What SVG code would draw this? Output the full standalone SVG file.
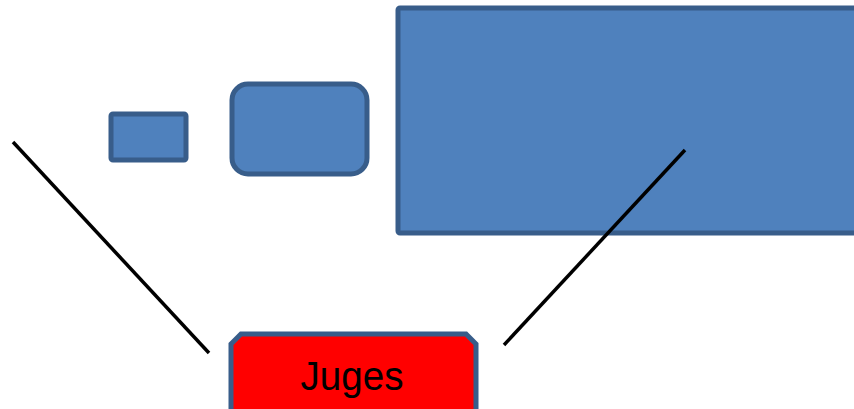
<svg xmlns="http://www.w3.org/2000/svg" width="854" height="409" viewBox="0 0 854 409">
<style>
.box{fill:#4F81BD;stroke:#385D8A;stroke-width:5}
.conn{stroke:#000;stroke-width:3.5;fill:none}
.lbl{font-family:"Liberation Sans",Arial,sans-serif;font-size:41px;fill:#000}
</style>
<rect width="854" height="409" fill="#fff"/>
<g id="small-box"><rect class="box" x="111" y="114" width="75" height="46" rx="2"/></g>
<g id="rounded-box"><rect class="box" x="232" y="84" width="135" height="90" rx="16"/></g>
<g id="big-box"><rect class="box" x="398" y="8" width="470" height="225" rx="2"/></g>
<g id="juges">
<path class="box" style="fill:#FF0000" d="M231,420 L231,344 L241,334 L466,334 L476,344 L476,420 Z"/>
<text class="lbl" x="352" y="390" text-anchor="middle" textLength="103" lengthAdjust="spacingAndGlyphs">Juges</text>
</g>
<g id="connectors">
<line class="conn" x1="13" y1="142" x2="209" y2="353"/>
<line class="conn" x1="685" y1="150" x2="504" y2="345"/>
</g>
</svg>
